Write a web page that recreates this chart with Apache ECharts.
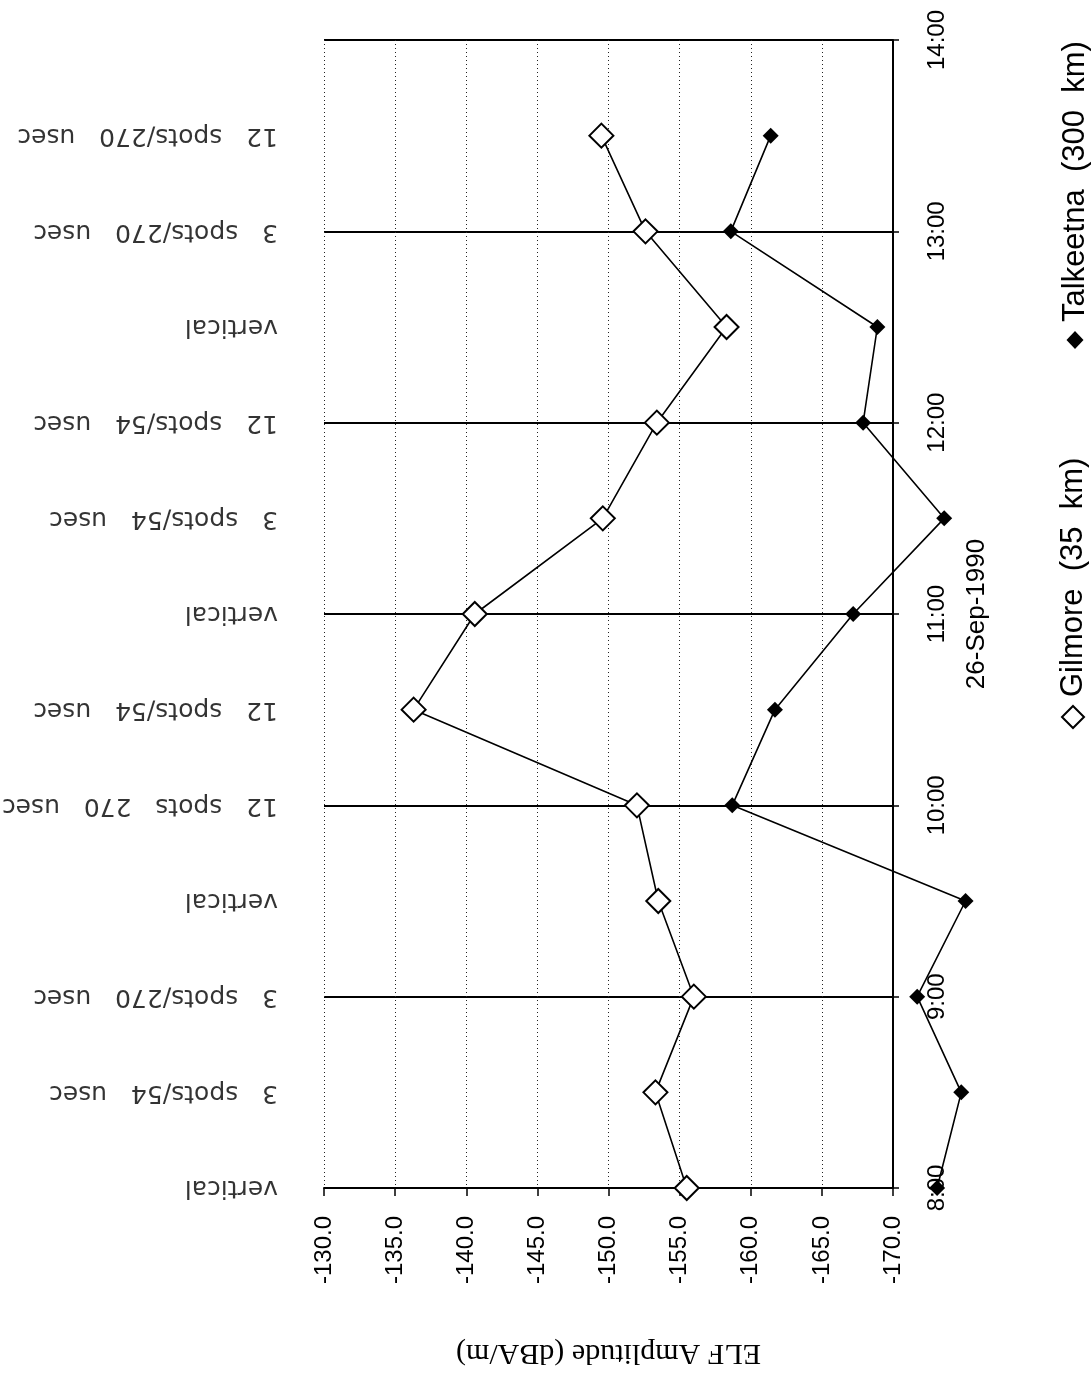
<!DOCTYPE html>
<html>
<head>
<meta charset="utf-8">
<title>ELF amplitude, 26-Sep-1990</title>
<script src="https://cdn.jsdelivr.net/npm/echarts@6/dist/echarts.min.js"></script>
<style>
  html, body { margin: 0; padding: 0; background: #fff; }
  #main { width: 1092px; height: 1387px; }
</style>
</head>
<body>
<div id="main"></div>
<script>
// time of day (hours), one entry per measurement
var times = [8, 8.5, 9, 9.5, 10, 10.5, 11, 11.5, 12, 12.5, 13, 13.5];
// ELF amplitude, dBA/m
var gilmore = [-155.5, -153.3, -156.0, -153.5, -152.0, -136.3, -140.6, -149.6, -153.4, -158.3, -152.6, -149.5];
var talkeetna = [-173.1, -174.8, -171.7, -175.1, -158.7, -161.7, -167.2, -173.6, -167.9, -168.9, -158.6, -161.4];
// heating mode for each time
var modes = ['vertical', '3 spots/54 usec', '3 spots/270 usec', 'vertical', '12 spots 270 usec',
             '12 spots/54 usec', 'vertical', '3 spots/54 usec', '12 spots/54 usec', 'vertical',
             '3 spots/270 usec', '12 spots/270 usec'];
var hourLabels = ['8:00', '9:00', '10:00', '11:00', '12:00', '13:00', '14:00'];
var seriesNames = ['Gilmore  (35  km)', 'Talkeetna  (300  km)'];
var dateLabel = '26-Sep-1990';
var ampTitle = 'ELF Amplitude (dBA/m)';

var sans = '"Liberation Sans", Arial, sans-serif';

// plot area of the visible axes
var plotLeft = 324, plotRight = 893, plotTop = 40, plotBottom = 1188;
// Talkeetna goes past -170, so the data lines sit on a wider hidden grid
// with the same scale (px per dB) as the visible one
var dataMin = -176;
var pxPerDb = (plotRight - plotLeft) / 40;
var dataRight = plotLeft + (-130 - dataMin) * pxPerDb;

function pairs(vals) {
    return vals.map(function (v, i) { return [v, times[i]]; });
}

var myChart = echarts.init(document.getElementById('main'));
myChart.setOption({
    animation: false,
    backgroundColor: '#fff',
    grid: [
        { left: plotLeft, right: 1092 - plotRight, top: plotTop, bottom: 1387 - plotBottom },
        { left: plotLeft, right: 1092 - dataRight, top: plotTop, bottom: 1387 - plotBottom }
    ],
    xAxis: [{
        type: 'value',
        gridIndex: 0,
        min: -170,
        max: -130,
        interval: 5,
        inverse: true,
        position: 'bottom',
        name: ampTitle,
        nameLocation: 'middle',
        nameRotate: 180,
        nameGap: 150,
        nameTextStyle: { fontFamily: '"Liberation Serif", "Times New Roman", serif', fontSize: 30, color: '#000' },
        axisLine: { lineStyle: { color: '#000', width: 2 } },
        axisTick: { show: true, length: 8, lineStyle: { color: '#000', width: 1.5 } },
        axisLabel: {
            rotate: 90, margin: 28, fontFamily: sans, fontSize: 24, color: '#000',
            formatter: function (v) { return v.toFixed(1); }
        },
        splitLine: { show: true, lineStyle: { color: '#222', width: 1, type: [1, 3] } }
    }, {
        type: 'value',
        gridIndex: 1,
        min: dataMin,
        max: -130,
        inverse: true,
        show: false
    }],
    yAxis: [{
        type: 'value',
        gridIndex: 0,
        min: 8,
        max: 14,
        interval: 1,
        position: 'right',
        name: dateLabel,
        nameLocation: 'middle',
        nameRotate: 90,
        nameGap: 71,
        nameTextStyle: { fontFamily: sans, fontSize: 26, color: '#000' },
        axisLine: { show: true, lineStyle: { color: '#000', width: 2 } },
        axisTick: { show: true, length: 6, lineStyle: { color: '#000', width: 1.5 } },
        axisLabel: {
            rotate: 90, margin: 32, fontFamily: sans, fontSize: 24, color: '#000',
            formatter: function (v) { return hourLabels[v - 8]; }
        },
        splitLine: { show: true, lineStyle: { color: '#000', width: 1.8 } }
    }, {
        type: 'value',
        gridIndex: 1,
        min: 8,
        max: 14,
        show: false
    }],
    series: [
        {
            name: 'modes',
            type: 'scatter',
            silent: true,
            symbolSize: 0.1,
            itemStyle: { color: 'transparent' },
            data: times.map(function (t) { return [-130, t]; }),
            label: {
                show: true,
                position: [-46, 0],
                align: 'left',
                verticalAlign: 'middle',
                rotate: 180,
                fontFamily: '"DejaVu Sans", sans-serif',
                fontSize: 25,
                color: '#000',
                formatter: function (p) { return modes[p.dataIndex].replace(/ /g, '   '); }
            }
        },
        {
            name: seriesNames[0],
            type: 'line',
            xAxisIndex: 1,
            yAxisIndex: 1,
            data: pairs(gilmore),
            symbol: 'diamond',
            symbolSize: 24,
            itemStyle: { color: '#fff', borderColor: '#000', borderWidth: 2 },
            lineStyle: { color: '#000', width: 1.6 },
            z: 5
        },
        {
            name: seriesNames[1],
            type: 'line',
            xAxisIndex: 1,
            yAxisIndex: 1,
            data: pairs(talkeetna),
            symbol: 'diamond',
            symbolSize: 16,
            itemStyle: { color: '#000', borderColor: '#000', borderWidth: 0 },
            lineStyle: { color: '#000', width: 1.6 },
            z: 5
        }
    ],
    graphic: [
        {
            type: 'polygon',
            shape: { points: [[1073, 706], [1084, 717], [1073, 728], [1062, 717]] },
            style: { fill: '#fff', stroke: '#000', lineWidth: 2 }
        },
        {
            type: 'text',
            x: 1073, y: 697, rotation: Math.PI / 2,
            style: { text: seriesNames[0], font: '31px ' + sans, fill: '#000', textAlign: 'left', textVerticalAlign: 'middle' }
        },
        {
            type: 'polygon',
            shape: { points: [[1075, 331], [1083.5, 340], [1075, 349], [1066.5, 340]] },
            style: { fill: '#000' }
        },
        {
            type: 'text',
            x: 1075, y: 322, rotation: Math.PI / 2,
            style: { text: seriesNames[1], font: '31px ' + sans, fill: '#000', textAlign: 'left', textVerticalAlign: 'middle' }
        }
    ]
});
</script>
</body>
</html>
